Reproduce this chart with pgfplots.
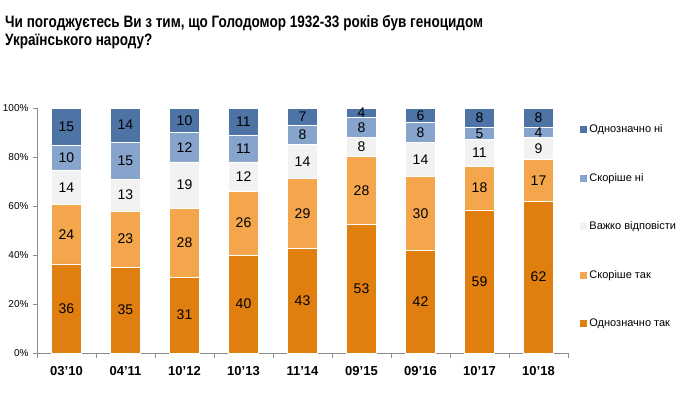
\documentclass[border=0pt]{standalone}
\usepackage{fontspec}
\setmainfont{Liberation Sans}
\newfontfamily\titlefont{Liberation Sans Bold}[FakeStretch=0.82]
\usepackage{pgfplots}
\usepackage{pgfplotstable}
\pgfplotsset{compat=1.18}
\definecolor{c1}{HTML}{E07F10}
\definecolor{c2}{HTML}{F4A64C}
\definecolor{c3}{HTML}{F2F2F2}
\definecolor{c4}{HTML}{87A5CC}
\definecolor{c5}{HTML}{4E74A6}
\pgfplotstableread{
x a b c d e
0 36 24 14 10 15
1 35 23 13 15 14
2 31 28 19 12 10
3 40 26 12 11 11
4 43 29 14 8 7
5 53 28 8 8 4
6 42 30 14 8 6
7 59 18 11 5 8
8 62 17 9 4 8
}\data
\newcommand{\tot}{(\thisrow{a}+\thisrow{b}+\thisrow{c}+\thisrow{d}+\thisrow{e})}
\begin{document}
\begin{tikzpicture}
\path[use as bounding box] (-37pt,-39pt) rectangle (655pt,353pt);
\begin{axis}[
  at={(0,0)}, anchor=south west, scale only axis,
  width=531pt, height=245pt,
  ybar stacked, bar width=30pt,
  xmin=-0.5, xmax=8.5, ymin=0, ymax=100,
  axis x line*=bottom, axis y line*=left,
  axis line style={draw=black!45, -},
  tick style={draw=black!45},
  tick align=outside,
  major tick length=4pt, minor tick length=5pt,
  xtick={0,...,8},
  xticklabels={03'10,04'11,10'12,10'13,11'14,09'15,09'16,10'17,10'18},
  major x tick style={draw=none},
  minor xtick={-0.5,0.5,...,8.5},
  x tick label style={font=\bfseries\fontsize{13}{15}\selectfont, yshift=-6pt},
  ytick={0,20,...,100},
  yticklabel={\pgfmathprintnumber{\tick}\%},
  y tick label style={font=\fontsize{10}{12}\selectfont, xshift=-1pt},
  /pgf/number format/assume math mode=true,
  every axis plot/.append style={draw=white, line width=0.7pt},
  reverse legend,
  legend cell align=left,
  legend style={draw=none, fill=none, at={(1.023,0.94)}, anchor=north west,
    font=\fontsize{11}{13}\selectfont, row sep=35pt, inner sep=0pt},
  legend image code/.code={\fill[#1,draw=none] (0pt,-3.5pt) rectangle (7pt,3.5pt);},
]
\addplot[fill=c1] table[x=x, y expr={\thisrow{a}*100/\tot}] {\data};
\addlegendentry{Однозначно так}
\addplot[fill=c2] table[x=x, y expr={\thisrow{b}*100/\tot}] {\data};
\addlegendentry{Скоріше так}
\addplot[fill=c3] table[x=x, y expr={\thisrow{c}*100/\tot}] {\data};
\addlegendentry{Важко відповісти}
\addplot[fill=c4] table[x=x, y expr={\thisrow{d}*100/\tot}] {\data};
\addlegendentry{Скоріше ні}
\addplot[fill=c5] table[x=x, y expr={\thisrow{e}*100/\tot}] {\data};
\addlegendentry{Однозначно ні}
\end{axis}
\begin{axis}[
  at={(0,0)}, anchor=south west, scale only axis,
  width=531pt, height=245pt,
  xmin=-0.5, xmax=8.5, ymin=0, ymax=100,
  hide axis,
  /pgf/number format/assume math mode=true,
  nodes near coords, point meta=explicit,
  every node near coord/.append style={anchor=center, font=\fontsize{14}{16}\selectfont, text=black},
]
\addplot[draw=none, mark=none] table[x=x, y expr={(\thisrow{a}/2)*100/\tot}, meta=a] {\data};
\addplot[draw=none, mark=none] table[x=x, y expr={(\thisrow{a}+\thisrow{b}/2)*100/\tot}, meta=b] {\data};
\addplot[draw=none, mark=none] table[x=x, y expr={(\thisrow{a}+\thisrow{b}+\thisrow{c}/2)*100/\tot}, meta=c] {\data};
\addplot[draw=none, mark=none] table[x=x, y expr={(\thisrow{a}+\thisrow{b}+\thisrow{c}+\thisrow{d}/2)*100/\tot}, meta=d] {\data};
\addplot[draw=none, mark=none] table[x=x, y expr={(\thisrow{a}+\thisrow{b}+\thisrow{c}+\thisrow{d}+\thisrow{e}/2)*100/\tot}, meta=e] {\data};
\end{axis}
\node[anchor=base west, inner sep=0pt, font=\titlefont\fontsize{16.5}{18}\selectfont] at (-32pt,326pt) {Чи погоджуєтесь Ви з тим, що Голодомор 1932-33 років був геноцидом};
\node[anchor=base west, inner sep=0pt, font=\titlefont\fontsize{16.5}{18}\selectfont] at (-32pt,308pt) {Українського народу?};
\end{tikzpicture}
\end{document}
